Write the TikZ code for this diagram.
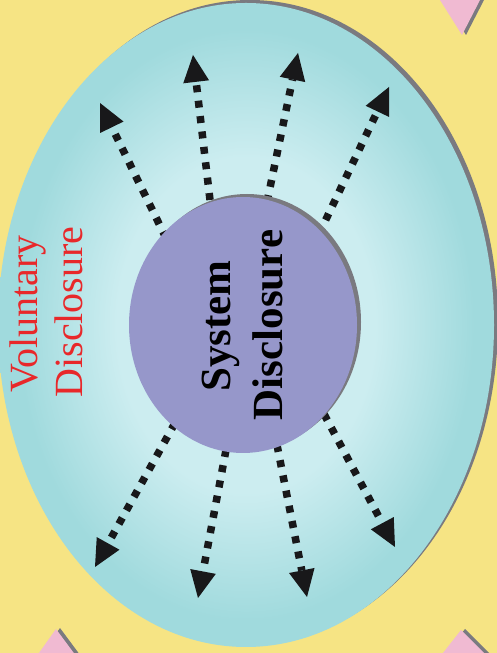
\documentclass[tikz,border=0pt]{standalone}
\usepackage{fontspec}
\setmainfont{Liberation Serif}
\usetikzlibrary{arrows.meta}
\definecolor{bgyellow}{RGB}{246,228,132}
\definecolor{cyanmain}{RGB}{160,218,221}
\definecolor{cyanlight}{RGB}{204,237,240}
\definecolor{sysviolet}{RGB}{150,151,202}
\definecolor{shadowgray}{RGB}{122,122,128}
\definecolor{discred}{RGB}{232,40,42}
\definecolor{tripink}{RGB}{240,186,210}
\definecolor{arrowblack}{RGB}{24,24,26}
\pgfdeclareradialshading{cyanglow}{\pgfpoint{0bp}{0bp}}{color(0bp)=(cyanlight); color(13bp)=(cyanlight); color(23bp)=(cyanmain); color(50bp)=(cyanmain)}
\begin{document}
\begin{tikzpicture}[x=1pt,y=1pt,
  dotarrow/.style={line width=7.5pt, dash pattern=on 7pt off 8.5pt, draw=arrowblack,
    -{Triangle[length=27pt,width=26pt,line width=0pt]}},
  redtext/.style={text=discred, font=\fontsize{40}{45}\selectfont, rotate=90, anchor=base, inner sep=0pt},
  systext/.style={text=black, font=\bfseries\fontsize{43}{50}\selectfont, rotate=90, anchor=base, inner sep=0pt}]
\useasboundingbox (0,0) rectangle (497,653);
\clip (0,0) rectangle (497,653);
\fill[bgyellow] (0,0) rectangle (497,653);
% corner triangles
\fill[shadowgray] (439.6,660) -- (487.6,660) -- (466,618) -- cycle;
\fill[tripink] (435.6,660) -- (483.6,660) -- (462,618) -- cycle;
\fill[shadowgray] (38,-6) -- (83,-6) -- (60,25) -- cycle;
\fill[tripink] (34,-7) -- (79,-7) -- (56,24) -- cycle;
\fill[shadowgray] (441.5,-6) -- (495,-6) -- (465,24) -- cycle;
\fill[tripink] (437.5,-7) -- (491,-7) -- (461,23) -- cycle;
% outer ellipse
\fill[shadowgray] (250,331) ellipse [x radius=248, y radius=322];
\shade[shading=cyanglow] (246,328) ellipse [x radius=248, y radius=322];
% arrow coordinates
\coordinate (t1) at (166,415); \coordinate (h1) at (100,550);
\coordinate (t2) at (210,453); \coordinate (h2) at (193,598);
\coordinate (t3) at (267,451); \coordinate (h3) at (298,600);
\coordinate (t4) at (319,419); \coordinate (h4) at (389,566);
\coordinate (t5) at (175,230); \coordinate (h5) at (95,86);
\coordinate (t6) at (226,203); \coordinate (h6) at (198,55);
\coordinate (t7) at (277,208); \coordinate (h7) at (307,56);
\coordinate (t8) at (324,239); \coordinate (h8) at (395,106);
\foreach \i in {1,...,8} { \draw[dotarrow] (t\i) -- (h\i); }
% inner ellipse
\fill[shadowgray] (247,331) ellipse [x radius=114, y radius=128];
\fill[sysviolet] (243,328) ellipse [x radius=114, y radius=128];
% texts
\node[redtext] (vol1) at (37,339) {Voluntary};
\node[redtext] (vol2) at (82,341) {Disclosure};
\node[systext] (sys1) at (230,327) {System};
\node[systext] (sys2) at (282,328) {Disclosure};
\end{tikzpicture}
\end{document}
